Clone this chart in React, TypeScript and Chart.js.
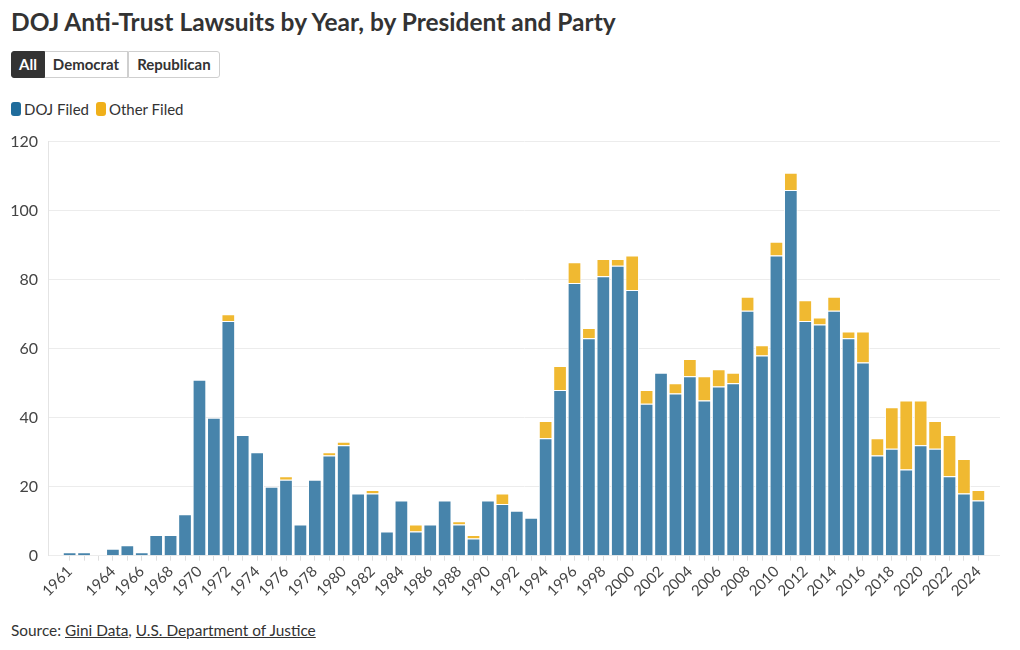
import React, { useEffect, useRef } from "react";
import { Chart, registerables } from "chart.js";

Chart.register(...registerables);

const years = [
  1961, 1962, 1963, 1964, 1965, 1966, 1967, 1968, 1969, 1970,
  1971, 1972, 1973, 1974, 1975, 1976, 1977, 1978, 1979, 1980,
  1981, 1982, 1983, 1984, 1985, 1986, 1987, 1988, 1989, 1990,
  1991, 1992, 1993, 1994, 1995, 1996, 1997, 1998, 1999, 2000,
  2001, 2002, 2003, 2004, 2005, 2006, 2007, 2008, 2009, 2010,
  2011, 2012, 2013, 2014, 2015, 2016, 2017, 2018, 2019, 2020,
  2021, 2022, 2023, 2024,
];

const dojFiled = [
  1, 1, 0, 2, 3, 1, 6, 6, 12, 51,
  40, 68, 35, 30, 20, 22, 9, 22, 29, 32,
  18, 18, 7, 16, 7, 9, 16, 9, 5, 16,
  15, 13, 11, 34, 48, 79, 63, 81, 84, 77,
  44, 53, 47, 52, 45, 49, 50, 71, 58, 87,
  106, 68, 67, 71, 63, 56, 29, 31, 25, 32,
  31, 23, 18, 16,
];

const otherFiled = [
  0, 0, 0, 0, 0, 0, 0, 0, 0, 0,
  0, 2, 0, 0, 0, 1, 0, 0, 1, 1,
  0, 1, 0, 0, 2, 0, 0, 1, 1, 0,
  3, 0, 0, 5, 7, 6, 3, 5, 2, 10,
  4, 0, 3, 5, 7, 5, 3, 4, 3, 4,
  5, 6, 2, 4, 2, 9, 5, 12, 20, 13,
  8, 12, 10, 3,
];

const labeledYears = [
  1961, 1964, 1966, 1968, 1970, 1972, 1974, 1976, 1978, 1980,
  1982, 1984, 1986, 1988, 1990, 1992, 1994, 1996, 1998, 2000,
  2002, 2004, 2006, 2008, 2010, 2012, 2014, 2016, 2018, 2020,
  2022, 2024,
];

const seriesNames = ["DOJ Filed", "Other Filed"];
const partyButtons = ["All", "Democrat", "Republican"];

const BAR_BLUE = "#4784ab";
const BAR_YELLOW = "#f0b931";
const LEG_BLUE = "#1f6c9c";
const LEG_YELLOW = "#f0b01a";
const FONT = "Lato, 'Open Sans', sans-serif";
const BAR_BORDER = { top: 1, left: 1, right: 1, bottom: 0 };

export default function App() {
  const ref = useRef<HTMLCanvasElement>(null);

  useEffect(() => {
    if (!ref.current) return;
    const chart = new Chart(ref.current, {
      type: "bar",
      data: {
        datasets: [
          {
            label: seriesNames[0],
            data: years.map((y, i) => ({ x: y, y: dojFiled[i] === 0 ? null : dojFiled[i] })),
            backgroundColor: BAR_BLUE,
            borderColor: "#ffffff",
            borderWidth: BAR_BORDER,
            borderSkipped: false,
            barPercentage: 0.95,
            categoryPercentage: 1,
            stack: "s",
          },
          {
            label: seriesNames[1],
            data: years.map((y, i) => ({ x: y, y: otherFiled[i] === 0 ? null : otherFiled[i] })),
            backgroundColor: BAR_YELLOW,
            borderColor: "#ffffff",
            borderWidth: BAR_BORDER,
            borderSkipped: false,
            barPercentage: 0.95,
            categoryPercentage: 1,
            stack: "s",
          },
        ] as any,
      },
      options: {
        animation: false,
        responsive: false,
        maintainAspectRatio: false,
        plugins: { legend: { display: false }, tooltip: { enabled: false } },
        layout: { padding: { left: 10, top: 13, right: 12, bottom: 10 } },
        scales: {
          x: {
            type: "linear",
            stacked: true,
            min: 1959.5,
            max: 2025.5,
            offset: false,
            afterBuildTicks: (scale: any) => {
              scale.ticks = years.map((v) => ({ value: v }));
            },
            afterFit: (scale: any) => {
              scale.paddingLeft = 0;
              scale.paddingRight = 0;
            },
            ticks: {
              autoSkip: false,
              minRotation: 45,
              maxRotation: 45,
              padding: 2,
              color: "#444",
              font: { family: FONT, size: 15 },
              callback: (v: any) => (labeledYears.includes(Number(v)) ? String(v) : ""),
            },
            grid: { drawOnChartArea: false, offset: false, tickLength: 5, color: "#dedede" },
            border: { display: false },
          },
          y: {
            stacked: true,
            min: 0,
            max: 120,
            afterFit: (scale: any) => {
              scale.width = 38;
            },
            ticks: { stepSize: 20, padding: 10, color: "#444", font: { family: FONT, size: 16 } },
            grid: { color: "#ececec", drawTicks: false },
            border: { color: "#e4e4e4" },
          },
        },
      } as any,
    });
    return () => chart.destroy();
  }, []);

  return (
    <div style={{ position: "absolute", left: 0, top: 0, width: 1020, height: 650, fontFamily: FONT, color: "#333", background: "#fff" }}>
      <div style={{ position: "absolute", left: 11, top: 7, fontSize: 24.5, fontWeight: 700, color: "#333", whiteSpace: "nowrap" }}>
        DOJ Anti-Trust Lawsuits by Year, by President and Party
      </div>
      <div style={{ position: "absolute", left: 11, top: 51, height: 27, display: "flex", fontSize: 15, fontWeight: 700 }}>
        {partyButtons.map((b, i) => (
          <div
            key={b}
            style={{
              height: 25,
              lineHeight: "25px",
              padding: i === 0 ? "0 7px" : "0 8px",
              border: "1px solid " + (i === 0 ? "#333" : "#cfcfcf"),
              borderLeft: i === 0 ? "1px solid #333" : i === 1 ? "none" : "1px solid #cfcfcf",
              background: i === 0 ? "#333" : "#fff",
              color: i === 0 ? "#fff" : "#333",
              borderRadius: i === 0 ? "3px 0 0 3px" : i === 2 ? "0 3px 3px 0" : 0,
            }}
          >
            {b}
          </div>
        ))}
      </div>
      <div style={{ position: "absolute", left: 11, top: 100, display: "flex", alignItems: "center", fontSize: 15, color: "#333" }}>
        {seriesNames.map((n, i) => (
          <div key={n} style={{ display: "flex", alignItems: "center", marginRight: 7 }}>
            <span style={{ display: "inline-block", width: 10, height: 14, borderRadius: 3, background: i === 0 ? LEG_BLUE : LEG_YELLOW, marginRight: 3 }} />
            <span>{n}</span>
          </div>
        ))}
      </div>
      <canvas ref={ref} width={1012} height={490} style={{ position: "absolute", left: 0, top: 122, width: 1012, height: 490 }} />
      <div style={{ position: "absolute", left: 11, top: 621, fontSize: 15.4, color: "#333" }}>
        Source: <span style={{ textDecoration: "underline" }}>Gini Data</span>,{" "}
        <span style={{ textDecoration: "underline" }}>U.S. Department of Justice</span>
      </div>
    </div>
  );
}
